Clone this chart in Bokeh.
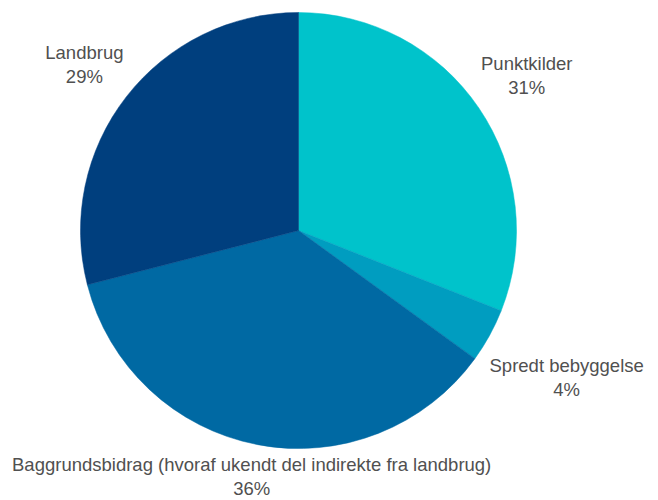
import numpy as np
from bokeh.plotting import figure
from bokeh.models import Range1d, ColumnDataSource
from bokeh.core.properties import value
from bokeh.embed import file_html
from bokeh.resources import INLINE

# ---- data ----
categories = ["Punktkilder", "Spredt bebyggelse",
              "Baggrundsbidrag (hvoraf ukendt del indirekte fra landbrug)", "Landbrug"]
shares = [31, 4, 36, 29]
colors = ["#00C3CB", "#009DC0", "#0069A3", "#003F7E"]

# ---- layout ----
W, H = 658, 500
cx, cy, R = 298, 270, 218
label_dist = [276, 306, 250, 271]   # radial distance of label centres

vals = np.array(shares, dtype=float)
frac = vals / vals.sum()
cum = np.concatenate([[0], np.cumsum(frac)])
start = np.pi / 2 - cum[:-1] * 2 * np.pi
end = np.pi / 2 - cum[1:] * 2 * np.pi
mid = (start + end) / 2
lx = cx + np.array(label_dist) * np.cos(mid)
ly = cy + np.array(label_dist) * np.sin(mid)

src = ColumnDataSource(dict(
    start=start, end=end, color=colors, name=categories,
    pct=[f"{v}%" for v in shares], lx=lx, ly=ly))

p = figure(width=W, height=H, output_backend="svg", toolbar_location=None,
           x_range=Range1d(0, W), y_range=Range1d(0, H),
           min_border=0, outline_line_color=None)
p.axis.visible = False
p.grid.visible = False
p.background_fill_color = "white"

p.wedge(x=cx, y=cy, radius=R, start_angle="start", end_angle="end",
        direction="clock", fill_color="color", line_color="color",
        line_width=0.5, source=src)

common = dict(text_font=value("Liberation Sans"), text_font_size="18.5px",
              text_color="#505050", text_align="center", text_baseline="middle",
              source=src)
p.text(x="lx", y="ly", text="name", y_offset=-12, **common)
p.text(x="lx", y="ly", text="pct", y_offset=12, **common)

open("out.html", "w").write(file_html(p, INLINE))
